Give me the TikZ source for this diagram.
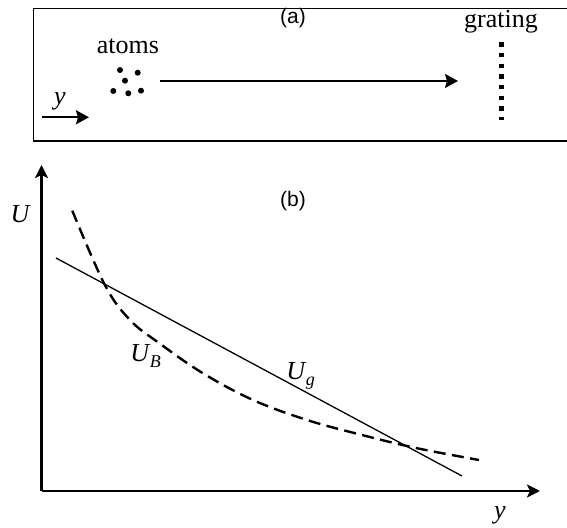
\documentclass[tikz,border=0pt]{standalone}
\usepackage{fontspec}
\setmainfont{Liberation Serif}
\setsansfont{Liberation Sans}
\usetikzlibrary{arrows.meta}
\tikzset{
  axarr/.style={-{Stealth[length=6.5pt,width=6.5pt,inset=1.5pt]},line width=1.3pt},
  beamarr/.style={-{Stealth[length=6.5pt,width=7pt,inset=1pt]},line width=1.1pt},
  lbl/.style={font=\fontsize{13}{15}\selectfont,inner sep=0pt,anchor=base},
  plbl/.style={font=\sffamily\fontsize{10.5}{12}\selectfont,inner sep=0pt,anchor=base},
  atom/.style={circle,fill=black,inner sep=0pt,minimum size=3pt},
  gratingline/.style={line width=2.5pt,dash pattern=on 2.2pt off 3.15pt},
  ubcurve/.style={line width=1.2pt,dash pattern=on 6pt off 3.2pt},
  ugline/.style={line width=0.65pt}
}
\newcommand{\sublbl}[2]{\textit{#1}\kern-0.3pt\raisebox{-0.45ex}{\fontsize{9}{10}\selectfont\textit{#2}}}

\begin{document}
\begin{tikzpicture}[x=0.5pt,y=-0.5pt]
\useasboundingbox (0,0) rectangle (567,528);
% panel (a)
\draw[line width=0.8pt] (567,8.5) -- (33.5,8.5) -- (33.5,141) -- (567,141);
\node[plbl] (pa) at (293,24) {(a)};
\node[lbl] (atoms) at (128,53.3) {atoms};
\node[lbl] (grating) at (501,27.7) {grating};
\foreach \x/\y [count=\i] in {120/70,137.7/72.7,125/80.7,113.3/91,128.3/93.3,141/90.7}
  \node[atom] (at\i) at (\x,\y) {};
\coordinate (beams) at (160,81);
\coordinate (beame) at (458,81);
\draw[beamarr] (beams) -- (beame);
\coordinate (grtop) at (501,42.3);
\coordinate (grbot) at (501,120);
\draw[gratingline] (grtop) -- (grbot);
\coordinate (ys) at (41.6,117.3);
\coordinate (ye) at (89,117.3);
\draw[beamarr] (ys) -- (ye);
\node[lbl,font=\fontsize{13}{15}\selectfont\itshape] (ya) at (60,105) {y};

% panel (b)
\coordinate (O) at (41.5,491);
\coordinate (ytip) at (41.5,165);
\coordinate (xtip) at (540,491);
\draw[axarr] (O) -- (ytip);
\draw[axarr] (O) -- (xtip);
\node[lbl,font=\fontsize{13}{15}\selectfont\itshape] (ulbl) at (20,223) {U};
\node[lbl,font=\fontsize{13}{15}\selectfont\itshape] (ylbl) at (500,518) {y};
\node[plbl] (pb) at (293,207) {(b)};
\coordinate (ugs) at (56,258);
\coordinate (uge) at (462,476);
\draw[ugline] (ugs) -- (uge);
\draw[ubcurve] plot[smooth,tension=0.6] coordinates {(72.3,210.7) (104.9,285) (130,320) (159,343) (202.5,373) (253,400) (307,420) (362,435) (416,448) (479,460)};
\node[lbl,anchor=base west,font=\fontsize{13}{15}\selectfont] (ub) at (130,362) {\sublbl{U}{B}};
\node[lbl,anchor=base west,font=\fontsize{13}{15}\selectfont] (ug) at (286,380) {\sublbl{U}{g}};
\end{tikzpicture}
\end{document}
